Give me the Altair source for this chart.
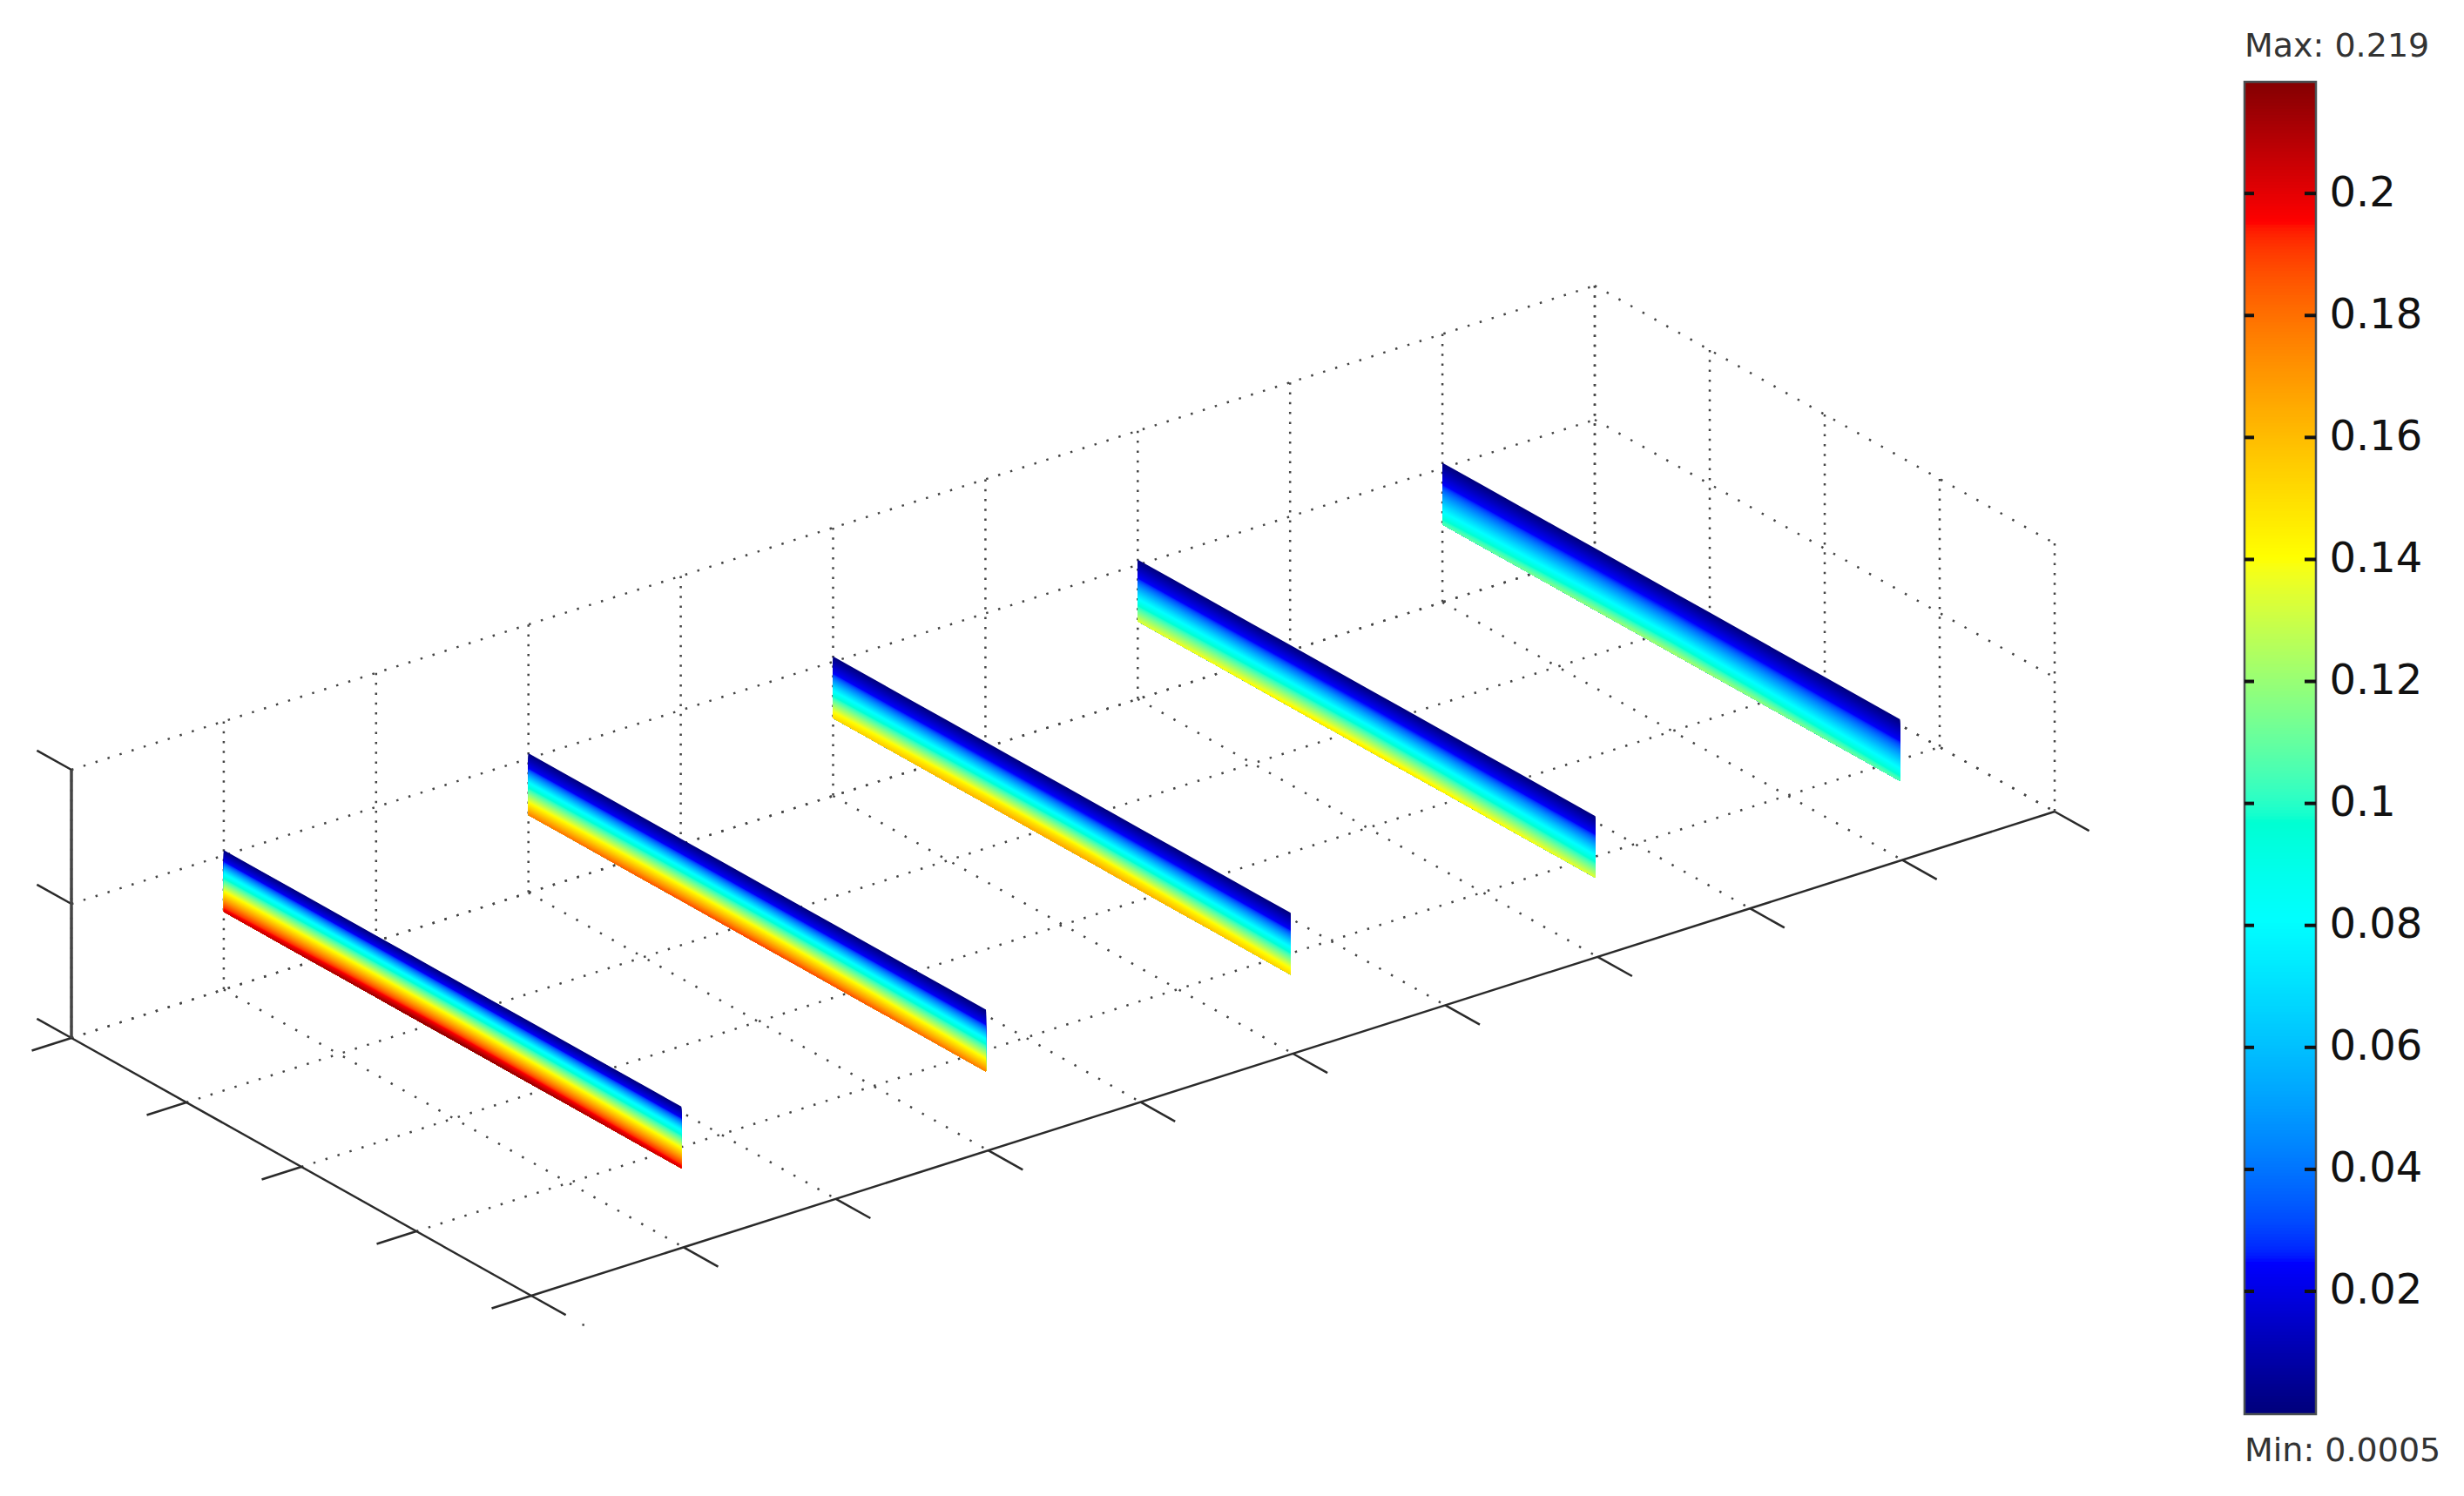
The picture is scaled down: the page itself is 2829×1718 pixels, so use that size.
import altair as alt
import numpy as np
import pandas as pd

# ---- 3D axes as they are projected on the page ----
ORIGIN = (610, 1488)      # front floor corner
U_AXIS = (1749, -556)     # long axis
V_AXIS = (-528, -296)     # short axis
Z_AXIS = (0, -308)        # vertical axis

U_TICKS = [0, .1, .2, .3, .4, .5, .6, .7, .8, .9, 1]
V_TICKS = [0, .25, .5, .75, 1]
Z_TICKS = [0, .5, 1]

# ---- slices: position along long axis, vertical extent, peak value at stations ----
SLICE_U = [0.1, 0.3, 0.5, 0.7, 0.9]
SLICE_Z_TOP = 0.52
SLICE_Z_BOTTOM = 0.29
STATIONS_V = [.005, .08, .17, .25, .33, .42, .5, .58, .67, .75, .83, .92, 1]
PEAKS = [
    [.203, .206, .209, .212, .214, .216, .217, .216, .214, .212, .209, .206, .203],
    [.176, .179, .182, .185, .187, .188, .189, .188, .187, .185, .182, .179, .176],
    [.152, .155, .158, .161, .163, .165, .166, .165, .163, .161, .158, .155, .152],
    [.134, .137, .140, .142, .145, .147, .148, .147, .145, .142, .140, .137, .134],
    [.107, .110, .113, .116, .119, .121, .123, .121, .119, .116, .113, .110, .107],
]
# per slice: share of its peak value reached at a depth below its top edge
PROFILE_SHARE = [
    [0, .11, .37, .65, .90, 1],
    [0, .13, .45, .78, 1],
    [0, .16, .52, .90, 1],
    [0, .18, .58, 1],
    [0, .22, .72, 1],
]
PROFILE_DEPTH = [
    [0, .18, .36, .63, .88, 1],
    [0, .24, .47, .78, 1],
    [0, .28, .55, .88, 1],
    [0, .30, .62, 1],
    [0, .35, .77, 1],
]
LEVEL_STEP = 0.00125
LEVEL_COUNT = 176

# ---- colour bar ----
V_MIN = 0.0005
V_MAX = 0.219
BAR_DOMAIN = [-0.00013, 0.2183]
BAR_TICKS = [.02, .04, .06, .08, .1, .12, .14, .16, .18, .2]
JET_VALUES = [0.0005, 0.0245, 0.0805, 0.140, 0.195, 0.219]
JET_COLORS = ["#00007f", "#0000ff", "#00ffff", "#ffff00", "#ff0000", "#7f0000"]
BAR_X = (2577, 2659)
TEXTS = ["Max: 0.219", "Min: 0.0005"]
TEXT_Y = [65, 1678]

W, H = 2813, 1702
xs = alt.Scale(domain=[8, 8 + W])
ys = alt.Scale(domain=[8 + H, 8])
bar_ys = alt.Scale(domain=BAR_DOMAIN, range=[1616, 86])
jet = alt.Scale(domain=JET_VALUES, range=JET_COLORS)


def project(u, v, z):
    return (ORIGIN[0] + u * U_AXIS[0] + v * V_AXIS[0] + z * Z_AXIS[0],
            ORIGIN[1] + u * U_AXIS[1] + v * V_AXIS[1] + z * Z_AXIS[1])


def seg(a, b):
    (x, y), (x2, y2) = project(*a), project(*b)
    return {"x": x, "y": y, "x2": x2, "y2": y2}


def rules(rows, **style):
    return alt.Chart(pd.DataFrame(rows)).mark_rule(**style).encode(
        x=alt.X("x:Q", scale=xs, axis=None), x2="x2:Q",
        y=alt.Y("y:Q", scale=ys, axis=None), y2="y2:Q")


# dotted grid
vertical = [seg((u, 1, 1), (u, 1, 0)) for u in U_TICKS] + [seg((1, v, 1), (1, v, 0)) for v in V_TICKS]
along_u = [seg((0, 1, z), (1, 1, z)) for z in Z_TICKS] + [seg((0, v, 0), (1, v, 0)) for v in V_TICKS[1:]]
along_v = [seg((1, 1, z), (1, 0, z)) for z in Z_TICKS] + [seg((u, 1, 0), (u, 0, 0)) for u in U_TICKS[1:]]
GRID = dict(color="#444444", strokeWidth=2.5)
grid = [rules(vertical, strokeDash=[2.5, 8.8], **GRID),
        rules(along_u, strokeDash=[2.5, 12], **GRID),
        rules(along_v, strokeDash=[2.5, 13.2], **GRID)]

# solid box edges and ticks
solid = [seg((0, 0, 0), (1, 0, 0)), seg((0, 0, 0), (0, 1, 0))]
solid += [seg((u, 0, 0), (u, -0.075, 0)) for u in U_TICKS]
solid += [seg((0, v, 0), (-0.026, v, 0)) for v in V_TICKS]
solid += [seg((0, 1, z), (0, 1.075, z)) for z in Z_TICKS]
edges = rules(solid, color="#2a2a2a", strokeWidth=2.5)
z_axis = rules([seg((0, 1, 0), (0, 1, 1))], color="#444444", strokeWidth=3.5)

dot_x, dot_y = project(0, -0.113, 0)
stray = alt.Chart(pd.DataFrame({"x": [dot_x], "y": [dot_y]})).mark_square(
    size=6, color="#444444", opacity=1).encode(
    x=alt.X("x:Q", scale=xs, axis=None), y=alt.Y("y:Q", scale=ys, axis=None))

# slices: iso-value bands, each painted down to the bottom of the slice
band_rows = []
for s, u in enumerate(SLICE_U):
    for k in range(LEVEL_COUNT):
        level = k * LEVEL_STEP
        if level >= max(PEAKS[s]):
            continue
        for v, peak in zip(reversed(STATIONS_V), reversed(PEAKS[s])):
            depth = float(np.interp(min(level / peak, 1), PROFILE_SHARE[s], PROFILE_DEPTH[s]))
            z = SLICE_Z_TOP + depth * (SLICE_Z_BOTTOM - SLICE_Z_TOP)
            x, y = project(u, v, z)
            _, yb = project(u, v, SLICE_Z_BOTTOM)
            band_rows.append({"x": round(x, 2), "y": round(y, 2), "y2": round(yb, 2),
                              "value": level + LEVEL_STEP / 2, "band": s * 1000 + k})
slices = alt.Chart(pd.DataFrame(band_rows)).mark_area(opacity=1, interpolate="linear").encode(
    x=alt.X("x:Q", scale=xs, axis=None),
    y=alt.Y("y:Q", scale=ys, axis=None), y2="y2:Q",
    color=alt.Color("value:Q", scale=jet, legend=None),
    detail="band:Q",
)

# colour bar
bar_axis = alt.Axis(
    orient="right", values=BAR_TICKS, format="~g", ticks=False, domain=False, grid=False,
    labelFont="DejaVu Sans", labelFontSize=48, labelColor="#111111", labelPadding=0,
    labelAlign="left", labelBaseline="middle", title=None, offset=2674 - (8 + W),
    labelOverlap=False, labelBound=False, labelFlush=False)
steps = [BAR_DOMAIN[0] + i * 0.0005 for i in range(438)]
bar_df = pd.DataFrame({"v": steps})
bar_df["v2"] = (bar_df["v"] + 0.001).clip(upper=BAR_DOMAIN[1])
bar_df["x"], bar_df["x2"] = BAR_X
bar_df["c"] = bar_df["v"].clip(lower=V_MIN, upper=V_MAX)
bar = alt.Chart(bar_df).mark_rect(opacity=1).encode(
    x=alt.X("x:Q", scale=xs, axis=None), x2="x2:Q",
    y=alt.Y("v:Q", scale=bar_ys, axis=bar_axis), y2="v2:Q",
    color=alt.Color("c:Q", scale=jet, legend=None),
)
frame = alt.Chart(pd.DataFrame({"x": [BAR_X[0]], "x2": [BAR_X[1]], "y": [BAR_DOMAIN[0]], "y2": [BAR_DOMAIN[1]]})).mark_rect(
    fill="transparent", stroke="#4a4f52", strokeWidth=2.5).encode(
    x=alt.X("x:Q", scale=xs, axis=None), x2="x2:Q",
    y=alt.Y("y:Q", scale=bar_ys, axis=bar_axis), y2="y2:Q")
tick_rows = []
for t in BAR_TICKS:
    tick_rows.append({"x": BAR_X[0], "x2": BAR_X[0] + 11, "y": t})
    tick_rows.append({"x": BAR_X[1] - 13, "x2": BAR_X[1], "y": t})
bar_ticks = alt.Chart(pd.DataFrame(tick_rows)).mark_rule(color="#111111", strokeWidth=4).encode(
    x=alt.X("x:Q", scale=xs, axis=None), x2="x2:Q",
    y=alt.Y("y:Q", scale=bar_ys, axis=bar_axis))

texts = alt.Chart(pd.DataFrame({"t": TEXTS, "y": TEXT_Y, "x": [BAR_X[0], BAR_X[0]]})).mark_text(
    align="left", baseline="alphabetic", font="DejaVu Sans", fontSize=38, color="#333333").encode(
    x=alt.X("x:Q", scale=xs, axis=None), y=alt.Y("y:Q", scale=ys, axis=None), text="t:N")

main = alt.layer(*grid, stray, slices, edges, z_axis, texts)
side = alt.layer(bar, frame, bar_ticks)
chart = alt.layer(main, side).resolve_scale(y="independent").properties(
    width=W, height=H, padding=0, background="white",
    autosize=alt.AutoSizeParams(type="none"),
).configure_view(stroke=None)

chart.save("out.html", embed_options={"renderer": "svg", "actions": False})
